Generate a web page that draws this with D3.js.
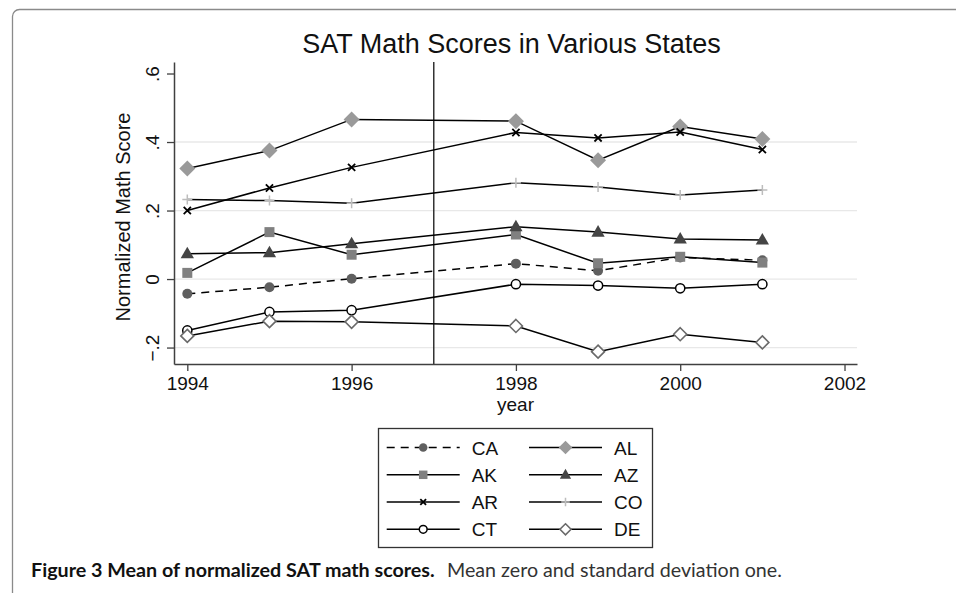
<!DOCTYPE html>
<html><head><meta charset="utf-8">
<script src="https://cdn.jsdelivr.net/npm/d3@7"></script>
<style>
html,body{margin:0;padding:0;background:#fff;}
svg{display:block;}
</style>
</head><body>
<svg id="chart" width="956" height="593"></svg>
<script>
// ---- data ----
const years = [1994, 1995, 1996, 1998, 1999, 2000, 2001];
const CA = [-0.043, -0.024, 0.001, 0.045, 0.024, 0.063, 0.055];
const AL = [0.323, 0.375, 0.466, 0.461, 0.347, 0.445, 0.409];
const AK = [0.018, 0.137, 0.071, 0.130, 0.046, 0.065, 0.048];
const AZ = [0.074, 0.077, 0.103, 0.153, 0.137, 0.117, 0.114];
const AR = [0.200, 0.266, 0.326, 0.428, 0.412, 0.429, 0.378];
const CO = [0.232, 0.229, 0.221, 0.281, 0.269, 0.245, 0.260];
const CT = [-0.150, -0.096, -0.091, -0.015, -0.019, -0.027, -0.015];
const DE = [-0.166, -0.123, -0.125, -0.137, -0.212, -0.161, -0.185];
const seriesNames = ["CA", "AL", "AK", "AZ", "AR", "CO", "CT", "DE"];
const xTicks = [1994, 1996, 1998, 2000, 2002];
const yTicks = [-0.2, 0, 0.2, 0.4, 0.6];
const yTickLabels = ["\u2212.2", "0", ".2", ".4", ".6"];
const gridValues = [-0.2, 0, 0.2, 0.4];
const refYear = 1997;
const title = "SAT Math Scores in Various States";
const xTitle = "year";
const yTitle = "Normalized Math Score";
const captionBold = "Figure 3 Mean of normalized SAT math scores.";
const captionText = "Mean zero and standard deviation one.";

const valuesByName = {CA, AL, AK, AZ, AR, CO, CT, DE};
const styles = {
  CA: {dash: "8,6", marker: "circle", fill: "#5f5f5f", stroke: "none", size: 5},
  AL: {dash: null, marker: "diamond", fill: "#9a9a9a", stroke: "none", size: 8},
  AK: {dash: null, marker: "square", fill: "#808080", stroke: "none", size: 5},
  AZ: {dash: null, marker: "triangle", fill: "#454545", stroke: "none", size: 7},
  AR: {dash: null, marker: "x", fill: "none", stroke: "#000", size: 3.6},
  CO: {dash: null, marker: "plus", fill: "none", stroke: "#bdbdbd", size: 5},
  CT: {dash: null, marker: "ocircle", fill: "#fff", stroke: "#000", size: 4.6},
  DE: {dash: null, marker: "odiamond", fill: "#fff", stroke: "#6a6a6a", size: 6.5}
};

const svg = d3.select("#chart");
const FONT = "'Liberation Sans', Arial, Helvetica, sans-serif";

// frame
svg.append("rect").attr("x", 12.5).attr("y", 9.5).attr("width", 1000).attr("height", 1000)
  .attr("rx", 7).attr("fill", "none").attr("stroke", "#8a8a8a").attr("stroke-width", 1.3);

const L = 174, R = 857, T = 62, B = 364;
const x = d3.scaleLinear().domain([1993.838, 2002.152]).range([L, R]);
const y = d3.scaleLinear().domain([-0.248, 0.6336]).range([B, T]);

// gridlines
svg.append("g").selectAll("line").data(gridValues).join("line")
  .attr("x1", L).attr("x2", R).attr("y1", d => y(d)).attr("y2", d => y(d))
  .attr("stroke", "#e8e8e8").attr("stroke-width", 1.3);

// reference line
svg.append("line").attr("x1", x(refYear)).attr("x2", x(refYear)).attr("y1", T).attr("y2", B)
  .attr("stroke", "#333").attr("stroke-width", 1.5);

// axes
const axColor = "#404040";
const gx = svg.append("g").attr("transform", `translate(0,${B})`)
  .call(d3.axisBottom(x).tickValues(xTicks).tickFormat(d3.format("d")).tickSize(7).tickSizeOuter(0).tickPadding(6));
gx.select(".domain").attr("stroke", axColor).attr("stroke-width", 1.5);
gx.selectAll(".tick line").attr("stroke", axColor).attr("stroke-width", 1.3);
gx.selectAll(".tick text").attr("font-family", FONT).attr("font-size", 19).attr("fill", "#111")
  .attr("dy", null).attr("y", 26);

const gy = svg.append("g").attr("transform", `translate(${L},0)`)
  .call(d3.axisLeft(y).tickValues(yTicks).tickFormat((d, i) => yTickLabels[i]).tickSize(7).tickSizeOuter(0));
gy.select(".domain").attr("stroke", axColor).attr("stroke-width", 1.5);
gy.selectAll(".tick line").attr("stroke", axColor).attr("stroke-width", 1.3);
gy.selectAll(".tick text").attr("font-family", FONT).attr("font-size", 19).attr("fill", "#111")
  .attr("x", 0).attr("y", 0).attr("dy", null).attr("text-anchor", "middle")
  .attr("transform", "translate(-15,0) rotate(-90)");

// titles
svg.append("text").attr("x", (L + R) / 2 - 4).attr("y", 53).attr("text-anchor", "middle")
  .attr("font-family", FONT).attr("font-size", 27).attr("fill", "#111").text(title);
svg.append("text").attr("x", (L + R) / 2).attr("y", 411).attr("text-anchor", "middle")
  .attr("font-family", FONT).attr("font-size", 19).attr("fill", "#111").text(xTitle);
svg.append("text").attr("transform", `translate(130,${(T + B) / 2 + 4}) rotate(-90)`).attr("text-anchor", "middle")
  .attr("font-family", FONT).attr("font-size", 20).attr("fill", "#111").text(yTitle);

// marker drawing
function drawMarker(g, st, cx, cy) {
  const s = st.size;
  if (st.marker === "circle" || st.marker === "ocircle") {
    g.append("circle").attr("cx", cx).attr("cy", cy).attr("r", s)
      .attr("fill", st.fill).attr("stroke", st.stroke).attr("stroke-width", 1.5);
  } else if (st.marker === "square") {
    g.append("rect").attr("x", cx - s).attr("y", cy - s).attr("width", 2 * s).attr("height", 2 * s)
      .attr("fill", st.fill);
  } else if (st.marker === "diamond" || st.marker === "odiamond") {
    g.append("path").attr("d", `M${cx},${cy - s}L${cx + s},${cy}L${cx},${cy + s}L${cx - s},${cy}Z`)
      .attr("fill", st.fill).attr("stroke", st.stroke).attr("stroke-width", 1.6);
  } else if (st.marker === "triangle") {
    g.append("path").attr("d", `M${cx},${cy - s}L${cx + s * 0.95},${cy + s * 0.65}L${cx - s * 0.95},${cy + s * 0.65}Z`)
      .attr("fill", st.fill);
  } else if (st.marker === "x") {
    g.append("path").attr("d", `M${cx - s},${cy - s}L${cx + s},${cy + s}M${cx - s},${cy + s}L${cx + s},${cy - s}`)
      .attr("stroke", st.stroke).attr("stroke-width", 1.8).attr("fill", "none");
  } else if (st.marker === "plus") {
    g.append("path").attr("d", `M${cx - s},${cy}L${cx + s},${cy}M${cx},${cy - s}L${cx},${cy + s}`)
      .attr("stroke", st.stroke).attr("stroke-width", 1.5).attr("fill", "none");
  }
}

// series
const line = d3.line().x((d, i) => x(years[i])).y(d => y(d));
seriesNames.forEach(name => {
  const st = styles[name];
  const vals = valuesByName[name];
  const g = svg.append("g");
  g.append("path").attr("d", line(vals)).attr("fill", "none").attr("stroke", "#000")
    .attr("stroke-width", 1.5).attr("stroke-dasharray", st.dash);
  vals.forEach((v, i) => drawMarker(g, st, x(years[i]), y(v)));
});

// legend
const lg = svg.append("g");
lg.append("rect").attr("x", 378.5).attr("y", 428.5).attr("width", 274).attr("height", 119)
  .attr("fill", "#fff").attr("stroke", "#333").attr("stroke-width", 1.3);
const rowY = [447.5, 474.8, 502, 529.3];
const colX = [386.7, 529];
seriesNames.forEach((name, k) => {
  const col = k % 2, row = Math.floor(k / 2);
  const st = styles[name];
  const x0 = colX[col], yy = rowY[row];
  lg.append("line").attr("x1", x0).attr("x2", x0 + 73).attr("y1", yy).attr("y2", yy)
    .attr("stroke", "#000").attr("stroke-width", 1.5).attr("stroke-dasharray", st.dash);
  const small = Object.assign({}, st, {size: st.size * (st.marker === "x" ? 0.8 : 0.85)});
  drawMarker(lg, small, x0 + 36.5, yy);
  lg.append("text").attr("x", x0 + 85).attr("y", yy + 7).attr("font-family", FONT)
    .attr("font-size", 19).attr("fill", "#111").text(name);
});

// caption
const CFONT = "Lato, 'Open Sans', 'Noto Sans', sans-serif";
const cap1 = svg.append("text").attr("x", 31).attr("y", 577).attr("font-family", CFONT)
  .attr("font-weight", "bold").attr("font-size", 16).attr("fill", "#111").text(captionBold);
const cap2 = svg.append("text").attr("x", 447).attr("y", 577).attr("font-family", CFONT)
  .attr("font-size", 16).attr("fill", "#333").text(captionText);
function fit(sel, target) {
  const w = sel.node().getComputedTextLength();
  if (w > 0) sel.attr("font-size", 16 * target / w);
}
fit(cap1, 404);
fit(cap2, 335);
</script>
</body></html>
